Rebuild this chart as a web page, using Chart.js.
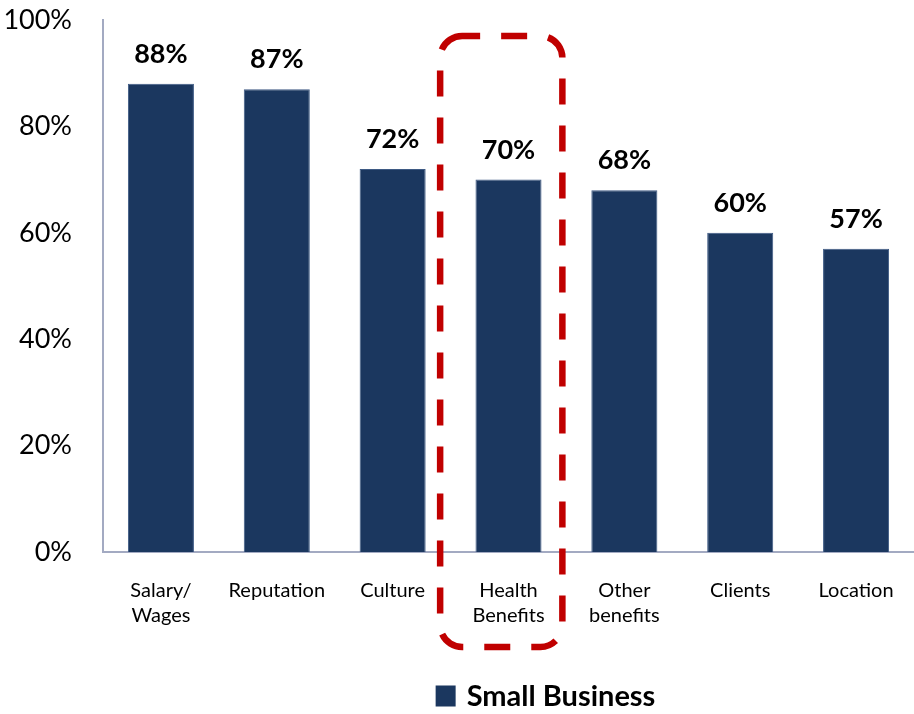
<!DOCTYPE html>
<html>
<head>
<meta charset="utf-8">
<script src="https://cdn.jsdelivr.net/npm/chart.js@4.4.1/dist/chart.umd.min.js"></script>
<style>
  html, body { margin: 0; padding: 0; background: #ffffff; }
  #wrap { width: 914px; height: 714px; }
</style>
</head>
<body>
<div id="wrap"><canvas id="chart" width="914" height="714"></canvas></div>
<script>
// Share of small businesses citing each factor (%)
const categories = [['Salary/', 'Wages'], 'Reputation', 'Culture', ['Health', 'Benefits'], ['Other', 'benefits'], 'Clients', 'Location'];
const smallBusiness = [88, 87, 72, 70, 68, 60, 57];
const yTicks = [0, 20, 40, 60, 80, 100];
const seriesName = 'Small Business';
const highlightIndex = 3; // Health Benefits

const BAR_COLOR = '#1b375f';
const AXIS_COLOR = '#a3aac2';
const FONT = 'Lato, "Open Sans", sans-serif';

// Bold percentage above each bar
const valueLabels = {
  id: 'valueLabels',
  afterDatasetsDraw(chart) {
    const { ctx } = chart;
    const ds = chart.data.datasets[0];
    const meta = chart.getDatasetMeta(0);
    ctx.save();
    ctx.font = 'bold 27px ' + FONT;
    ctx.fillStyle = '#000000';
    ctx.textAlign = 'center';
    ctx.textBaseline = 'alphabetic';
    meta.data.forEach((bar, i) => {
      ctx.fillText(ds.data[i] + '%', bar.x, bar.y - 21);
    });
    ctx.restore();
  }
};

// Dashed rounded frame around the highlighted category
const highlightBox = {
  id: 'highlightBox',
  afterDraw(chart) {
    const { ctx, chartArea, scales: { x } } = chart;
    const cx = x.getPixelForValue(highlightIndex);
    const w = x.width / categories.length;
    const left = cx - 0.59 * w;
    const right = cx + 0.465 * w;
    const top = chartArea.top + 16;
    const bottom = chartArea.bottom + 95;
    ctx.save();
    ctx.strokeStyle = '#c00000';
    ctx.lineWidth = 6.5;
    ctx.setLineDash([26, 21]);
    ctx.lineDashOffset = 8;
    ctx.beginPath();
    ctx.roundRect(left, top, right - left, bottom - top, 22);
    ctx.stroke();
    ctx.restore();
  }
};

// Single-entry legend under the axis labels
const bottomLegend = {
  id: 'bottomLegend',
  afterDraw(chart) {
    const { ctx, chartArea } = chart;
    const ds = chart.data.datasets[0];
    ctx.save();
    ctx.font = 'bold 29px ' + FONT;
    const tw = ctx.measureText(ds.label).width;
    const box = 20, gap = 11;
    const total = box + gap + tw;
    const centerX = (chartArea.left + chartArea.right) / 2 + 37;
    const left = centerX - total / 2;
    const midY = chart.height - 18.5;
    ctx.fillStyle = ds.backgroundColor;
    ctx.fillRect(left, midY - box / 2, box, box + 1);
    ctx.fillStyle = '#000000';
    ctx.textAlign = 'left';
    ctx.textBaseline = 'middle';
    ctx.fillText(ds.label, left + box + gap, midY + 1);
    ctx.restore();
  }
};

new Chart(document.getElementById('chart'), {
  type: 'bar',
  data: {
    labels: categories,
    datasets: [{
      label: seriesName,
      data: smallBusiness,
      backgroundColor: BAR_COLOR,
      borderColor: '#3e5a84',
      borderWidth: 1,
      barPercentage: 0.57,
      categoryPercentage: 1.0
    }]
  },
  options: {
    responsive: false,
    animation: false,
    devicePixelRatio: 1,
    layout: { padding: { top: 20, right: 0, left: 0, bottom: 0 } },
    plugins: {
      legend: { display: false },
      tooltip: { enabled: false }
    },
    scales: {
      x: {
        grid: { display: false, drawTicks: false },
        border: { display: true, color: AXIS_COLOR, width: 2 },
        ticks: {
          color: '#000000',
          font: { family: FONT, size: 20, lineHeight: 1.25 },
          padding: 26,
          maxRotation: 0,
          autoSkip: false
        },
        afterFit(scale) {
          scale.height = 162;
          scale.paddingLeft = 0;
          scale.paddingRight = 0;
        }
      },
      y: {
        min: 0,
        max: 100,
        afterBuildTicks(scale) { scale.ticks = yTicks.map(v => ({ value: v })); },
        grid: { display: false, drawTicks: false },
        border: { display: true, color: AXIS_COLOR, width: 2 },
        ticks: {
          color: '#000000',
          font: { family: FONT, size: 27 },
          padding: 31,
          callback: v => v + '%'
        },
        afterFit(scale) {
          scale.width = 103;
          scale.paddingTop = 0;
          scale.paddingBottom = 0;
        }
      }
    }
  },
  plugins: [valueLabels, highlightBox, bottomLegend]
});
</script>
</body>
</html>
